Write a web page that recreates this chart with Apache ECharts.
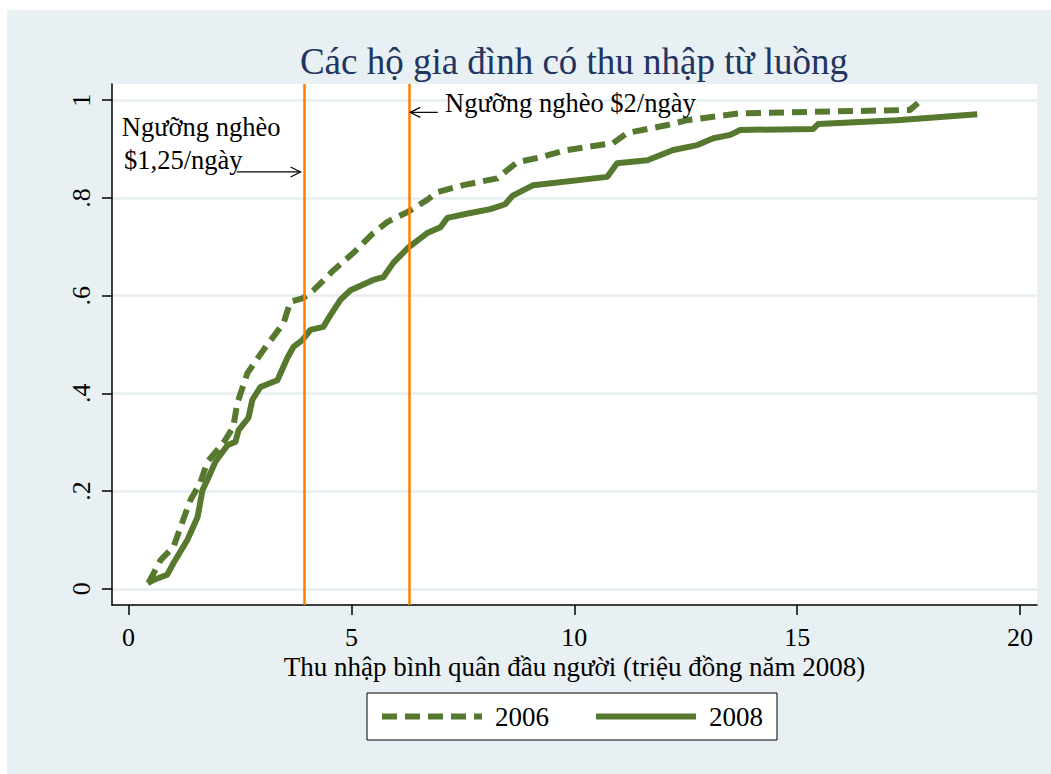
<!DOCTYPE html>
<html lang="vi">
  <head>
    <meta charset="UTF-8" />
    <title>Các hộ gia đình có thu nhập từ luồng</title>
    <script src="https://cdn.jsdelivr.net/npm/echarts@6/dist/echarts.min.js"></script>
    <style>
      body {
        margin: 0;
        background: #fff;
      }
      #chart {
        position: absolute;
        left: 7px;
        top: 10px;
        width: 1044px;
        height: 764px;
      }
    </style>
  </head>
  <body>
    <div id="chart"></div>
    <script>
      // CDF points: [income, share]
      const income2006 = [0.45, 0.72, 1.01, 1.17, 1.39, 1.61, 1.77, 2.13, 2.35, 2.44, 2.67, 3.03, 3.48, 3.63, 3.92, 4.15, 4.6, 5.04, 5.49, 5.81, 6.26, 6.7, 6.93, 7.51, 8.27, 8.72, 9.24, 9.84, 10.87, 11.19, 12.09, 12.53, 13.72, 17.53, 17.71];
      const share2006 = [0.012, 0.059, 0.086, 0.127, 0.182, 0.217, 0.26, 0.299, 0.331, 0.38, 0.442, 0.489, 0.544, 0.587, 0.595, 0.611, 0.652, 0.687, 0.728, 0.751, 0.771, 0.796, 0.812, 0.826, 0.84, 0.873, 0.883, 0.898, 0.912, 0.933, 0.949, 0.959, 0.973, 0.98, 0.994];
      const income2008 = [0.43, 0.56, 0.87, 1.01, 1.32, 1.55, 1.66, 1.77, 1.95, 2.22, 2.4, 2.47, 2.69, 2.78, 2.96, 3.34, 3.57, 3.7, 3.9, 4.08, 4.37, 4.53, 4.75, 4.98, 5.49, 5.72, 5.94, 6.26, 6.7, 7.0, 7.15, 7.67, 8.12, 8.45, 8.61, 9.08, 10.74, 10.96, 11.64, 12.22, 12.76, 13.12, 13.5, 13.72, 15.36, 15.47, 17.24, 19.04];
      const share2008 = [0.012, 0.018, 0.029, 0.053, 0.1, 0.147, 0.202, 0.223, 0.26, 0.294, 0.301, 0.325, 0.35, 0.387, 0.413, 0.427, 0.474, 0.495, 0.509, 0.53, 0.536, 0.56, 0.591, 0.611, 0.632, 0.638, 0.667, 0.697, 0.728, 0.74, 0.759, 0.769, 0.777, 0.787, 0.804, 0.826, 0.843, 0.871, 0.877, 0.898, 0.908, 0.922, 0.929, 0.939, 0.941, 0.951, 0.959, 0.971];

      const thresholds = [3.94, 6.29]; // $1,25 and $2 per day
      const xTicks = [0, 5, 10, 15, 20];
      const yTicks = [0, 0.2, 0.4, 0.6, 0.8, 1];

      // annotations: [text, x, y] (left edge, vertical centre)
      const notes = [
        ["Ngưỡng nghèo", -0.15, 0.945],
        ["$1,25/ngày", -0.1, 0.877],
        ["Ngưỡng nghèo $2/ngày", 7.1, 0.994]
      ];
      // arrows: [fromX, toX, y]
      const arrows = [
        [2.43, 3.86, 0.853],
        [6.94, 6.32, 0.975]
      ];

      const font = "'Liberation Serif', 'Times New Roman', serif";
      const green = "#57792f";

      const zip = (xs, ys) => xs.map((x, i) => [x, ys[i]]);

      const chart = echarts.init(document.getElementById("chart"), null, { renderer: "svg" });

      chart.setOption({
        backgroundColor: "#e9f0f3",
        animation: false,
        textStyle: { fontFamily: font },
        title: {
          text: "Các hộ gia đình có thu nhập từ luồng",
          left: 562,
          textAlign: "center",
          top: 28,
          textStyle: { fontFamily: font, fontSize: 37, fontWeight: "normal", color: "#223460" }
        },
        grid: {
          left: 105,
          top: 74,
          width: 925,
          height: 521,
          show: true,
          backgroundColor: "#fff",
          borderWidth: 0
        },
        legend: {
          data: ["2006", "2008"],
          left: 360,
          top: 683,
          orient: "horizontal",
          backgroundColor: "#fff",
          borderColor: "#000",
          borderWidth: 1,
          borderRadius: 0,
          padding: [10, 14, 10, 12],
          itemWidth: 100,
          itemHeight: 24,
          itemGap: 44,
          itemStyle: { opacity: 0 },
          lineStyle: { width: 6 },
          textStyle: { fontFamily: font, fontSize: 27, color: "#000", padding: [0, 0, 0, 8] }
        },
        xAxis: {
          type: "value",
          min: -0.37,
          max: 20.38,
          name: "Thu nhập bình quân đầu người (triệu đồng năm 2008)",
          nameLocation: "middle",
          nameGap: 48,
          nameMoveOverlap: false,
          nameTextStyle: { fontFamily: font, fontSize: 27, color: "#000" },
          axisLine: { show: true, onZero: false, lineStyle: { color: "#000", width: 1.5 } },
          axisTick: { show: true, length: 10, customValues: xTicks, lineStyle: { color: "#000", width: 1.5 } },
          axisLabel: { customValues: xTicks, margin: 19, fontFamily: font, fontSize: 26, color: "#000" },
          splitLine: { show: false }
        },
        yAxis: {
          type: "value",
          min: -0.033,
          max: 1.033,
          axisLine: { show: true, onZero: false, lineStyle: { color: "#000", width: 1.5 } },
          axisTick: { show: true, length: 10, customValues: yTicks, lineStyle: { color: "#000", width: 1.5 } },
          axisLabel: {
            customValues: yTicks,
            rotate: 90,
            margin: 18,
            fontFamily: font,
            fontSize: 26,
            color: "#000",
            formatter: v => (v === 0 ? "0" : v === 1 ? "1" : String(+v.toFixed(1)).replace("0.", "."))
          },
          splitLine: { show: true, lineStyle: { color: "#e6eef1", width: 2.5 } }
        },
        series: [
          {
            name: "thresholds",
            type: "line",
            data: [],
            z: 1,
            silent: true,
            markLine: {
              silent: true,
              symbol: "none",
              label: { show: false },
              lineStyle: { color: "#ff7f00", width: 2.5, type: "solid" },
              data: thresholds.map(v => ({ xAxis: v }))
            }
          },
          {
            name: "2006",
            type: "line",
            z: 3,
            showSymbol: false,
            symbol: "none",
            color: green,
            lineStyle: { color: green, width: 6, type: [15, 8], cap: "butt", join: "round" },
            data: zip(income2006, share2006)
          },
          {
            name: "2008",
            type: "line",
            z: 3,
            showSymbol: false,
            symbol: "none",
            color: green,
            lineStyle: { color: green, width: 6, type: "solid", cap: "butt", join: "round" },
            data: zip(income2008, share2008)
          }
        ]
      });

      // annotations placed through the axes
      const px = (x, y) => chart.convertToPixel({ gridIndex: 0 }, [x, y]);
      const elements = [];
      notes.forEach(([text, x, y]) => {
        const p = px(x, y);
        elements.push({
          type: "text",
          x: p[0],
          y: p[1],
          z: 10,
          style: { text, fontFamily: font, fontSize: 26.5, fill: "#000", verticalAlign: "middle", align: "left" }
        });
      });
      arrows.forEach(([x0, x1, y]) => {
        const a = px(x0, y);
        const b = px(x1, y);
        const dir = b[0] > a[0] ? 1 : -1;
        elements.push({
          type: "polyline",
          z: 10,
          shape: { points: [a, b] },
          style: { stroke: "#000", lineWidth: 1.2, fill: null }
        });
        elements.push({
          type: "polyline",
          z: 10,
          shape: { points: [[b[0] - dir * 10, b[1] - 5], b, [b[0] - dir * 10, b[1] + 5]] },
          style: { stroke: "#000", lineWidth: 1.2, fill: null }
        });
      });
      chart.setOption({ graphic: elements });
    </script>
  </body>
</html>
